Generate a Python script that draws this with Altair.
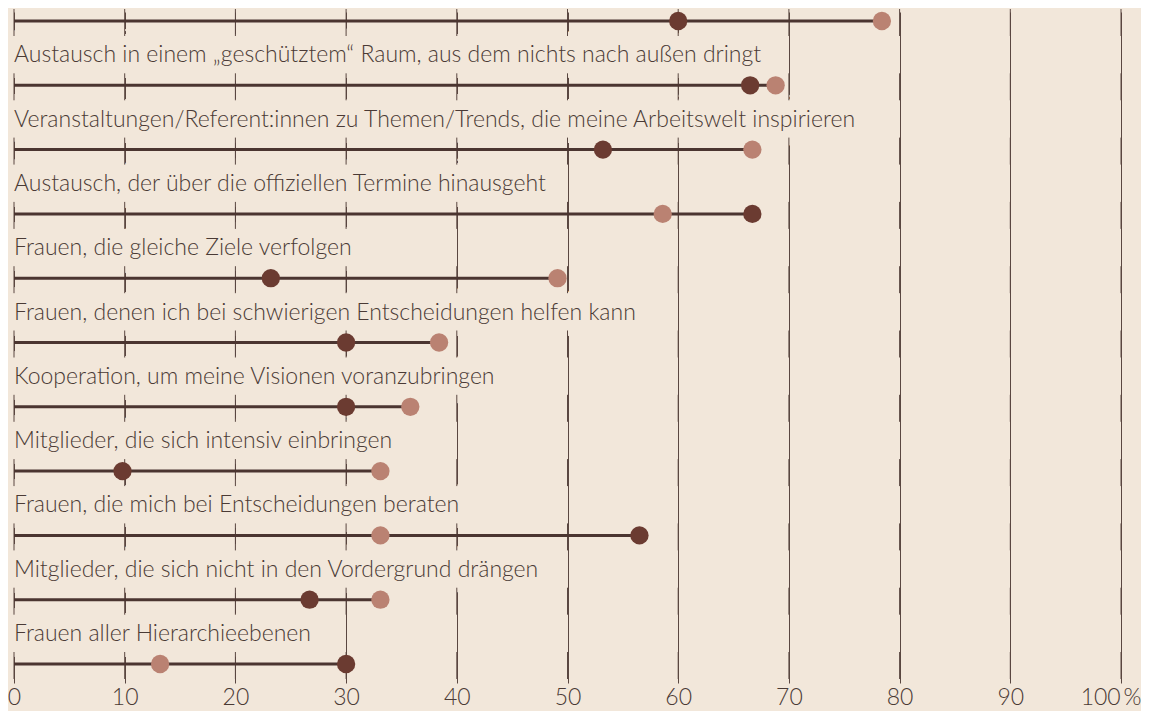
import altair as alt
import pandas as pd

# ---------------- data ----------------
labels = [
    "",  # label of the first row lies above the visible area
    "Austausch in einem „geschütztem“ Raum, aus dem nichts nach außen dringt",
    "Veranstaltungen/Referent:innen zu Themen/Trends, die meine Arbeitswelt inspirieren",
    "Austausch, der über die offiziellen Termine hinausgeht",
    "Frauen, die gleiche Ziele verfolgen",
    "Frauen, denen ich bei schwierigen Entscheidungen helfen kann",
    "Kooperation, um meine Visionen voranzubringen",
    "Mitglieder, die sich intensiv einbringen",
    "Frauen, die mich bei Entscheidungen beraten",
    "Mitglieder, die sich nicht in den Vordergrund drängen",
    "Frauen aller Hierarchieebenen",
]
dark_values = [60.0, 66.5, 53.2, 66.7, 23.2, 30.0, 30.0, 9.8, 56.5, 26.7, 30.0]
light_values = [78.4, 68.8, 66.7, 58.6, 49.1, 38.4, 35.8, 33.1, 33.1, 33.1, 13.2]
tick_values = [0, 10, 20, 30, 40, 50, 60, 70, 80, 90, 100]

# ---------------- styles ----------------
BG = "#f2e7da"
TEXT = "#4a3a35"
GRID = "#5a4741"
LINE = "#4b3530"
DARK = "#6b3b31"
LIGHT = "#ba8272"
FONT = "Lato"
FS = 23
ROW_PX = 64.3  # pixel distance between rows

W = 1107
H = 671

rows = pd.DataFrame({
    "row": list(range(len(labels))),
    "label": labels,
    "dark": dark_values,
    "light": light_values,
})
dots = rows.melt(id_vars=["row"], value_vars=["dark", "light"],
                 var_name="series", value_name="value")
ticks = pd.DataFrame([(r, t) for r in rows["row"] for t in tick_values],
                     columns=["row", "value"])

yscale = alt.Scale(domain=[-9 / ROW_PX, 10 + 19 / ROW_PX], reverse=True,
                   nice=False, zero=False)
last_tick = "datum.value == 100"
xaxis = alt.Axis(values=tick_values, grid=True, gridColor=GRID, gridWidth=1,
                 ticks=False, domain=False, title=None,
                 labelFont=FONT, labelFontSize=FS, labelFontWeight=300,
                 labelColor=TEXT, labelPadding=3, labelFlush=False,
                 labelAlign={"condition": {"test": last_tick, "value": "right"},
                             "value": "center"},
                 labelOffset={"condition": {"test": last_tick, "value": 20},
                              "value": 0},
                 labelExpr="datum.value == 100 ? '100\u2009%' : datum.label")
xscale = alt.Scale(domain=[0, 100], nice=False, zero=False)


def X(field):
    return alt.X(field, scale=xscale, axis=xaxis)


base_rows = alt.Chart(rows)

# mask behind the labels: hides gridlines where text sits
mask = base_rows.mark_text(
    align="left", baseline="alphabetic", dy=-23, font=FONT, fontSize=FS,
    fontWeight=300, fill=BG, stroke=BG, strokeWidth=32, strokeJoin="round",
).encode(
    x=X("zero:Q"),
    y=alt.Y("row:Q", scale=yscale, axis=None),
    text="label:N",
).transform_filter("datum.label != ''").transform_calculate(zero="0")

# gridline pieces around each row line (drawn above the mask)
tick_rules = alt.Chart(ticks).mark_rule(color=GRID, strokeWidth=1).transform_calculate(
    y1=f"datum.row - {12 / ROW_PX}", y2=f"datum.row + {15 / ROW_PX}"
).encode(
    x=X("value:Q"),
    y=alt.Y("y1:Q", scale=yscale, axis=None),
    y2="y2:Q",
)

row_lines = base_rows.mark_rule(color=LINE, strokeWidth=3).transform_calculate(
    zero="0", vmax="max(datum.dark, datum.light)"
).encode(
    x=X("zero:Q"),
    x2="vmax:Q",
    y=alt.Y("row:Q", scale=yscale, axis=None),
)

points = alt.Chart(dots).mark_circle(size=335, opacity=1).encode(
    x=X("value:Q"),
    y=alt.Y("row:Q", scale=yscale, axis=None),
    color=alt.Color("series:N", scale=alt.Scale(domain=["dark", "light"],
                                                range=[DARK, LIGHT]),
                    legend=None),
)

text = base_rows.mark_text(
    align="left", baseline="alphabetic", dy=-23, font=FONT, fontSize=FS,
    fontWeight=300, color=TEXT,
).encode(
    x=X("zero:Q"),
    y=alt.Y("row:Q", scale=yscale, axis=None),
    text="label:N",
).transform_filter("datum.label != ''").transform_calculate(zero="0")

chart = alt.layer(mask, tick_rules, row_lines, points, text).properties(
    width=W, height=H,
    padding={"left": 6, "top": 4, "right": 20, "bottom": 28},
    autosize=alt.AutoSizeParams(type="none"),
    background=BG,
).configure_view(stroke=None)

chart.save("out.html", embed_options={"renderer": "svg", "actions": False})
